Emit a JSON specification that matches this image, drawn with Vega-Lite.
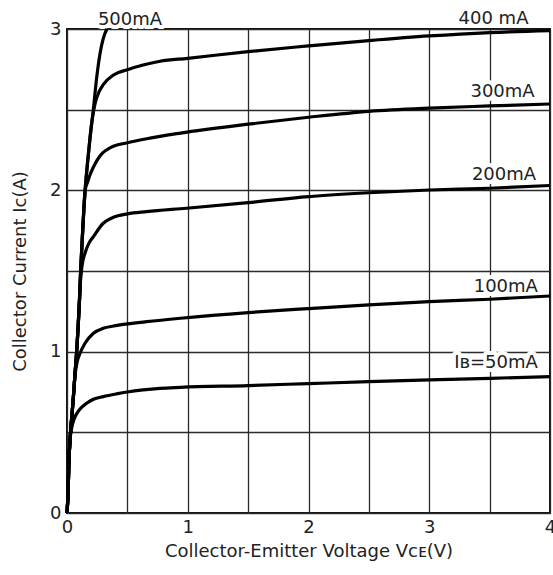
{
  "$schema": "https://vega.github.io/schema/vega-lite/v6.json",
  "width": 483,
  "height": 484,
  "autosize": {"type": "none"},
  "padding": {"left": 67, "top": 29, "right": 3, "bottom": 62},
  "background": "white",
  "config": {
    "font": "DejaVu Sans",
    "view": {"stroke": "#111", "strokeWidth": 2},
    "axis": {
      "grid": true, "gridColor": "#2a2a2a", "gridWidth": 1.3, "gridOpacity": 1,
      "domain": false, "ticks": false,
      "labelFont": "DejaVu Sans", "labelFontSize": 18, "labelColor": "#222",
      "titleFont": "DejaVu Sans", "titleFontSize": 18, "titleFontWeight": "normal", "titleColor": "#222"
    }
  },
  "datasets": {
    "curves": [
      {"ib": "500mA", "v": 0, "i": 0}, {"ib": "500mA", "v": 0.01, "i": 0.15}, {"ib": "500mA", "v": 0.015, "i": 0.3}, {"ib": "500mA", "v": 0.025, "i": 0.45}, {"ib": "500mA", "v": 0.04, "i": 0.6}, {"ib": "500mA", "v": 0.053, "i": 0.72}, {"ib": "500mA", "v": 0.066, "i": 0.86}, {"ib": "500mA", "v": 0.08, "i": 1.0}, {"ib": "500mA", "v": 0.092, "i": 1.15}, {"ib": "500mA", "v": 0.104, "i": 1.33}, {"ib": "500mA", "v": 0.113, "i": 1.5}, {"ib": "500mA", "v": 0.13, "i": 1.75}, {"ib": "500mA", "v": 0.15, "i": 2.0}, {"ib": "500mA", "v": 0.17, "i": 2.17}, {"ib": "500mA", "v": 0.19, "i": 2.32}, {"ib": "500mA", "v": 0.218, "i": 2.5}, {"ib": "500mA", "v": 0.246, "i": 2.7}, {"ib": "500mA", "v": 0.274, "i": 2.85}, {"ib": "500mA", "v": 0.3, "i": 2.94}, {"ib": "500mA", "v": 0.33, "i": 3.0},

      {"ib": "400mA", "v": 0, "i": 0}, {"ib": "400mA", "v": 0.01, "i": 0.15}, {"ib": "400mA", "v": 0.015, "i": 0.3}, {"ib": "400mA", "v": 0.025, "i": 0.45}, {"ib": "400mA", "v": 0.04, "i": 0.6}, {"ib": "400mA", "v": 0.053, "i": 0.72}, {"ib": "400mA", "v": 0.066, "i": 0.86}, {"ib": "400mA", "v": 0.08, "i": 1.0}, {"ib": "400mA", "v": 0.092, "i": 1.15}, {"ib": "400mA", "v": 0.104, "i": 1.33}, {"ib": "400mA", "v": 0.113, "i": 1.5}, {"ib": "400mA", "v": 0.13, "i": 1.75}, {"ib": "400mA", "v": 0.15, "i": 2.0}, {"ib": "400mA", "v": 0.17, "i": 2.17}, {"ib": "400mA", "v": 0.19, "i": 2.32}, {"ib": "400mA", "v": 0.205, "i": 2.42}, {"ib": "400mA", "v": 0.222, "i": 2.5}, {"ib": "400mA", "v": 0.24, "i": 2.56}, {"ib": "400mA", "v": 0.265, "i": 2.61}, {"ib": "400mA", "v": 0.3, "i": 2.655}, {"ib": "400mA", "v": 0.385, "i": 2.715}, {"ib": "400mA", "v": 0.5, "i": 2.748}, {"ib": "400mA", "v": 0.63, "i": 2.777}, {"ib": "400mA", "v": 0.77, "i": 2.8}, {"ib": "400mA", "v": 1.0, "i": 2.818}, {"ib": "400mA", "v": 1.5, "i": 2.86}, {"ib": "400mA", "v": 2.0, "i": 2.895}, {"ib": "400mA", "v": 2.5, "i": 2.928}, {"ib": "400mA", "v": 3.0, "i": 2.957}, {"ib": "400mA", "v": 3.5, "i": 2.978}, {"ib": "400mA", "v": 4.0, "i": 2.99},

      {"ib": "300mA", "v": 0, "i": 0}, {"ib": "300mA", "v": 0.01, "i": 0.15}, {"ib": "300mA", "v": 0.015, "i": 0.3}, {"ib": "300mA", "v": 0.025, "i": 0.45}, {"ib": "300mA", "v": 0.04, "i": 0.6}, {"ib": "300mA", "v": 0.053, "i": 0.72}, {"ib": "300mA", "v": 0.066, "i": 0.86}, {"ib": "300mA", "v": 0.08, "i": 1.0}, {"ib": "300mA", "v": 0.092, "i": 1.15}, {"ib": "300mA", "v": 0.104, "i": 1.33}, {"ib": "300mA", "v": 0.113, "i": 1.5}, {"ib": "300mA", "v": 0.13, "i": 1.75}, {"ib": "300mA", "v": 0.15, "i": 2.0}, {"ib": "300mA", "v": 0.17, "i": 2.05}, {"ib": "300mA", "v": 0.19, "i": 2.095}, {"ib": "300mA", "v": 0.219, "i": 2.145}, {"ib": "300mA", "v": 0.27, "i": 2.21}, {"ib": "300mA", "v": 0.3, "i": 2.235}, {"ib": "300mA", "v": 0.36, "i": 2.265}, {"ib": "300mA", "v": 0.5, "i": 2.295}, {"ib": "300mA", "v": 0.66, "i": 2.32}, {"ib": "300mA", "v": 0.94, "i": 2.355}, {"ib": "300mA", "v": 1.5, "i": 2.41}, {"ib": "300mA", "v": 2.0, "i": 2.453}, {"ib": "300mA", "v": 2.5, "i": 2.49}, {"ib": "300mA", "v": 3.0, "i": 2.51}, {"ib": "300mA", "v": 3.5, "i": 2.523}, {"ib": "300mA", "v": 4.0, "i": 2.535},

      {"ib": "200mA", "v": 0, "i": 0}, {"ib": "200mA", "v": 0.01, "i": 0.15}, {"ib": "200mA", "v": 0.015, "i": 0.3}, {"ib": "200mA", "v": 0.025, "i": 0.45}, {"ib": "200mA", "v": 0.04, "i": 0.6}, {"ib": "200mA", "v": 0.053, "i": 0.72}, {"ib": "200mA", "v": 0.066, "i": 0.86}, {"ib": "200mA", "v": 0.08, "i": 1.0}, {"ib": "200mA", "v": 0.092, "i": 1.15}, {"ib": "200mA", "v": 0.104, "i": 1.33}, {"ib": "200mA", "v": 0.112, "i": 1.44}, {"ib": "200mA", "v": 0.122, "i": 1.52}, {"ib": "200mA", "v": 0.149, "i": 1.61}, {"ib": "200mA", "v": 0.18, "i": 1.67}, {"ib": "200mA", "v": 0.219, "i": 1.713}, {"ib": "200mA", "v": 0.3, "i": 1.796}, {"ib": "200mA", "v": 0.385, "i": 1.833}, {"ib": "200mA", "v": 0.5, "i": 1.854}, {"ib": "200mA", "v": 0.66, "i": 1.868}, {"ib": "200mA", "v": 0.99, "i": 1.889}, {"ib": "200mA", "v": 1.5, "i": 1.924}, {"ib": "200mA", "v": 2.0, "i": 1.961}, {"ib": "200mA", "v": 2.5, "i": 1.985}, {"ib": "200mA", "v": 3.0, "i": 2.002}, {"ib": "200mA", "v": 3.5, "i": 2.013}, {"ib": "200mA", "v": 4.0, "i": 2.03},

      {"ib": "100mA", "v": 0, "i": 0}, {"ib": "100mA", "v": 0.01, "i": 0.15}, {"ib": "100mA", "v": 0.015, "i": 0.3}, {"ib": "100mA", "v": 0.025, "i": 0.45}, {"ib": "100mA", "v": 0.04, "i": 0.6}, {"ib": "100mA", "v": 0.053, "i": 0.72}, {"ib": "100mA", "v": 0.066, "i": 0.85}, {"ib": "100mA", "v": 0.085, "i": 0.94}, {"ib": "100mA", "v": 0.108, "i": 0.99}, {"ib": "100mA", "v": 0.149, "i": 1.052}, {"ib": "100mA", "v": 0.219, "i": 1.114}, {"ib": "100mA", "v": 0.3, "i": 1.145}, {"ib": "100mA", "v": 0.385, "i": 1.159}, {"ib": "100mA", "v": 0.5, "i": 1.172}, {"ib": "100mA", "v": 0.66, "i": 1.186}, {"ib": "100mA", "v": 0.94, "i": 1.207}, {"ib": "100mA", "v": 1.5, "i": 1.242}, {"ib": "100mA", "v": 2.0, "i": 1.267}, {"ib": "100mA", "v": 2.5, "i": 1.29}, {"ib": "100mA", "v": 3.0, "i": 1.31}, {"ib": "100mA", "v": 3.5, "i": 1.325}, {"ib": "100mA", "v": 4.0, "i": 1.345},

      {"ib": "50mA", "v": 0, "i": 0}, {"ib": "50mA", "v": 0.01, "i": 0.15}, {"ib": "50mA", "v": 0.015, "i": 0.3}, {"ib": "50mA", "v": 0.025, "i": 0.45}, {"ib": "50mA", "v": 0.04, "i": 0.53}, {"ib": "50mA", "v": 0.06, "i": 0.585}, {"ib": "50mA", "v": 0.08, "i": 0.615}, {"ib": "50mA", "v": 0.108, "i": 0.645}, {"ib": "50mA", "v": 0.163, "i": 0.68}, {"ib": "50mA", "v": 0.219, "i": 0.705}, {"ib": "50mA", "v": 0.3, "i": 0.721}, {"ib": "50mA", "v": 0.41, "i": 0.738}, {"ib": "50mA", "v": 0.5, "i": 0.75}, {"ib": "50mA", "v": 0.63, "i": 0.763}, {"ib": "50mA", "v": 0.77, "i": 0.773}, {"ib": "50mA", "v": 0.94, "i": 0.779}, {"ib": "50mA", "v": 1.5, "i": 0.79}, {"ib": "50mA", "v": 2.0, "i": 0.802}, {"ib": "50mA", "v": 2.5, "i": 0.814}, {"ib": "50mA", "v": 3.0, "i": 0.825}, {"ib": "50mA", "v": 3.5, "i": 0.835}, {"ib": "50mA", "v": 4.0, "i": 0.845}
    ],
    "labels": [
      {"text": "500mA", "v": 0.522, "i": 3.025},
      {"text": "400 mA", "v": 3.532, "i": 3.031},
      {"text": "300mA", "v": 3.607, "i": 2.58},
      {"text": "200mA", "v": 3.619, "i": 2.064},
      {"text": "100mA", "v": 3.634, "i": 1.37},
      {"text": "Iʙ=50mA", "v": 3.553, "i": 0.897}
    ]
  },
  "encoding": {
    "x": {
      "field": "v", "type": "quantitative",
      "scale": {"domain": [0, 4], "nice": false},
      "axis": {
        "values": [0, 0.5, 1, 1.5, 2, 2.5, 3, 3.5, 4],
        "labelExpr": "datum.value % 1 === 0 ? toString(datum.value) : ''",
        "labelFlush": false, "labelOverlap": false,
        "labelPadding": 5, "titlePadding": 6,
        "title": "Collector-Emitter Voltage Vᴄᴇ(V)"
      }
    },
    "y": {
      "field": "i", "type": "quantitative",
      "scale": {"domain": [0, 3], "nice": false},
      "axis": {
        "values": [0, 0.5, 1, 1.5, 2, 2.5, 3],
        "labelExpr": "datum.value % 1 === 0 ? toString(datum.value) : ''",
        "labelOverlap": false,
        "labelPadding": 6, "titlePadding": 20,
        "title": "Collector Current Iᴄ(A)"
      }
    }
  },
  "layer": [
    {
      "data": {"name": "labels"},
      "mark": {"type": "text", "fontSize": 18, "baseline": "alphabetic", "align": "center", "fill": "white", "stroke": "white", "strokeWidth": 8, "strokeJoin": "round"},
      "encoding": {"text": {"field": "text"}}
    },
    {
      "data": {"name": "curves"},
      "mark": {"type": "line", "color": "black", "strokeWidth": 3.2, "interpolate": "monotone"},
      "encoding": {"detail": {"field": "ib"}, "order": {"field": "v", "type": "quantitative"}}
    },
    {
      "data": {"name": "labels"},
      "mark": {"type": "text", "fontSize": 18, "baseline": "alphabetic", "align": "center", "color": "#222"},
      "encoding": {"text": {"field": "text"}}
    }
  ]
}
